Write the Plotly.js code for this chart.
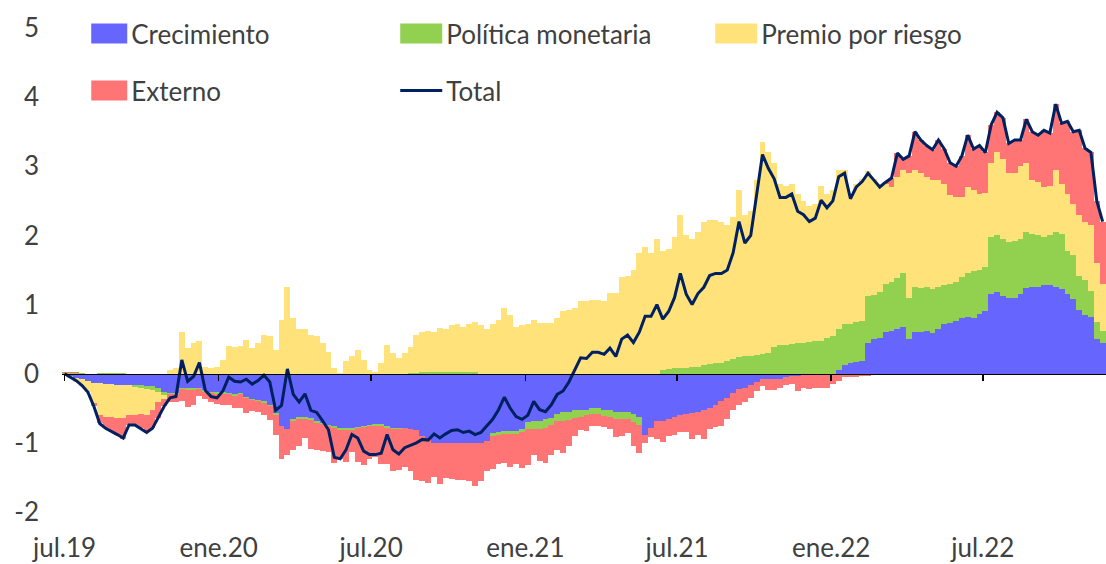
<!DOCTYPE html>
<html><head><meta charset="utf-8">
<script src="https://cdn.plot.ly/plotly-3.0.1.min.js"></script>
<style>html,body{margin:0;padding:0;background:#fff}#chart{width:1106px;height:564px}</style>
</head><body><div id="chart"></div>
<script>
const dates = [
"2019-07-01","2019-07-08","2019-07-15","2019-07-22","2019-07-29","2019-08-05","2019-08-12","2019-08-19","2019-08-26","2019-09-02",
"2019-09-09","2019-09-16","2019-09-23","2019-09-30","2019-10-07","2019-10-14","2019-10-21","2019-10-28","2019-11-04","2019-11-11",
"2019-11-18","2019-11-25","2019-12-02","2019-12-09","2019-12-16","2019-12-23","2019-12-30","2020-01-06","2020-01-13","2020-01-20",
"2020-01-27","2020-02-03","2020-02-10","2020-02-17","2020-02-24","2020-03-02","2020-03-09","2020-03-16","2020-03-23","2020-03-30",
"2020-04-06","2020-04-13","2020-04-20","2020-04-27","2020-05-04","2020-05-11","2020-05-18","2020-05-25","2020-06-01","2020-06-08",
"2020-06-15","2020-06-22","2020-06-29","2020-07-06","2020-07-13","2020-07-20","2020-07-27","2020-08-03","2020-08-10","2020-08-17",
"2020-08-24","2020-08-31","2020-09-07","2020-09-14","2020-09-21","2020-09-28","2020-10-05","2020-10-12","2020-10-19","2020-10-26",
"2020-11-02","2020-11-09","2020-11-16","2020-11-23","2020-11-30","2020-12-07","2020-12-14","2020-12-21","2020-12-28","2021-01-04",
"2021-01-11","2021-01-18","2021-01-25","2021-02-01","2021-02-08","2021-02-15","2021-02-22","2021-03-01","2021-03-08","2021-03-15",
"2021-03-22","2021-03-29","2021-04-05","2021-04-12","2021-04-19","2021-04-26","2021-05-03","2021-05-10","2021-05-17","2021-05-24",
"2021-05-31","2021-06-07","2021-06-14","2021-06-21","2021-06-28","2021-07-05","2021-07-12","2021-07-19","2021-07-26","2021-08-02",
"2021-08-09","2021-08-16","2021-08-23","2021-08-30","2021-09-06","2021-09-13","2021-09-20","2021-09-27","2021-10-04","2021-10-11",
"2021-10-18","2021-10-25","2021-11-01","2021-11-08","2021-11-15","2021-11-22","2021-11-29","2021-12-06","2021-12-13","2021-12-20",
"2021-12-27","2022-01-03","2022-01-10","2022-01-17","2022-01-24","2022-01-31","2022-02-07","2022-02-14","2022-02-21","2022-02-28",
"2022-03-07","2022-03-14","2022-03-21","2022-03-28","2022-04-04","2022-04-11","2022-04-18","2022-04-25","2022-05-02","2022-05-09",
"2022-05-16","2022-05-23","2022-05-30","2022-06-06","2022-06-13","2022-06-20","2022-06-27","2022-07-04","2022-07-11","2022-07-18",
"2022-07-25","2022-08-01","2022-08-08","2022-08-15","2022-08-22","2022-08-29","2022-09-05","2022-09-12","2022-09-19","2022-09-26",
"2022-10-03","2022-10-10","2022-10-17","2022-10-24","2022-10-31","2022-11-07","2022-11-14","2022-11-21"
];

const crecimiento = [
-0.02,-0.04,-0.06,-0.08,-0.10,-0.13,-0.14,-0.15,-0.15,-0.16,
-0.17,-0.17,-0.17,-0.17,-0.18,-0.18,-0.20,-0.26,-0.28,-0.28,
-0.20,-0.21,-0.20,-0.20,-0.24,-0.26,-0.27,-0.27,-0.28,-0.30,
-0.28,-0.33,-0.36,-0.38,-0.40,-0.45,-0.57,-0.76,-0.80,-0.65,
-0.62,-0.62,-0.64,-0.69,-0.71,-0.74,-0.76,-0.79,-0.79,-0.79,
-0.77,-0.75,-0.74,-0.73,-0.72,-0.76,-0.78,-0.79,-0.79,-0.80,
-0.81,-0.90,-0.95,-1.00,-1.00,-1.00,-1.00,-1.00,-1.00,-1.00,
-1.00,-1.00,-0.98,-0.86,-0.84,-0.83,-0.83,-0.83,-0.80,-0.70,
-0.68,-0.68,-0.66,-0.64,-0.58,-0.56,-0.55,-0.52,-0.52,-0.52,
-0.50,-0.50,-0.52,-0.53,-0.55,-0.55,-0.56,-0.58,-0.62,-0.88,
-0.78,-0.68,-0.68,-0.65,-0.62,-0.60,-0.58,-0.57,-0.55,-0.52,
-0.50,-0.45,-0.40,-0.35,-0.28,-0.22,-0.20,-0.16,-0.12,-0.08,
-0.08,-0.08,-0.07,-0.05,-0.03,-0.03,-0.02,-0.02,-0.02,-0.01,
-0.01,0.00,0.05,0.12,0.15,0.17,0.18,0.45,0.50,0.52,
0.60,0.62,0.64,0.68,0.50,0.60,0.60,0.62,0.59,0.65,
0.72,0.74,0.76,0.80,0.82,0.80,0.86,0.90,1.16,1.18,
1.12,1.10,1.10,1.15,1.24,1.25,1.26,1.28,1.28,1.25,
1.22,1.15,1.08,0.92,0.85,0.82,0.50,0.45
];

const politicaMonetaria = [
0.01,0.01,0.01,0.01,0.00,0.00,0.01,0.01,0.01,0.01,
0.01,0.00,-0.02,-0.03,-0.04,-0.05,-0.06,-0.05,-0.01,-0.01,
-0.02,-0.03,-0.03,-0.02,-0.02,-0.02,-0.02,-0.02,-0.02,-0.02,
-0.02,-0.02,-0.02,-0.02,-0.02,-0.02,-0.02,0.00,0.00,-0.03,
-0.03,-0.03,-0.03,-0.02,-0.02,-0.02,-0.02,-0.02,-0.02,-0.02,
-0.02,-0.02,-0.02,-0.03,-0.03,-0.02,-0.02,-0.01,0.00,0.01,
0.01,0.02,0.02,0.02,0.02,0.02,0.02,0.02,0.02,0.02,
0.02,0.00,0.00,-0.04,-0.04,-0.04,-0.04,-0.04,-0.05,-0.10,
-0.12,-0.12,-0.12,-0.10,-0.10,-0.12,-0.12,-0.12,-0.10,-0.07,
-0.08,-0.08,-0.09,-0.10,-0.10,-0.10,-0.10,-0.12,-0.12,0.00,
0.00,0.00,0.05,0.07,0.08,0.08,0.08,0.09,0.10,0.12,
0.14,0.15,0.16,0.18,0.22,0.24,0.25,0.26,0.27,0.28,
0.30,0.38,0.42,0.42,0.43,0.44,0.45,0.46,0.47,0.48,
0.52,0.55,0.60,0.60,0.57,0.58,0.58,0.67,0.64,0.66,
0.70,0.71,0.74,0.77,0.60,0.65,0.64,0.63,0.63,0.60,
0.56,0.56,0.56,0.60,0.63,0.68,0.64,0.65,0.82,0.82,
0.83,0.80,0.82,0.80,0.81,0.77,0.74,0.70,0.72,0.80,
0.80,0.63,0.64,0.50,0.50,0.38,0.25,0.17
];

const premioRiesgo = [
0.00,-0.02,-0.06,-0.10,-0.16,-0.30,-0.45,-0.47,-0.48,-0.48,
-0.47,-0.42,-0.40,-0.38,-0.37,-0.30,-0.15,-0.05,0.06,0.08,
0.60,0.37,0.44,0.47,0.10,0.08,0.09,0.20,0.40,0.38,
0.40,0.49,0.37,0.44,0.56,0.55,0.35,0.78,1.25,0.80,
0.64,0.64,0.56,0.54,0.44,0.32,0.08,0.01,0.18,0.25,
0.35,0.20,0.06,0.03,0.15,0.42,0.30,0.23,0.30,0.37,
0.55,0.58,0.60,0.58,0.64,0.62,0.68,0.70,0.66,0.70,
0.73,0.70,0.64,0.72,0.78,0.95,0.85,0.68,0.70,0.72,
0.78,0.74,0.74,0.73,0.80,0.90,0.92,0.95,1.05,1.05,
1.07,1.07,1.05,1.17,1.17,1.40,1.42,1.50,1.75,1.83,
1.75,1.95,1.73,1.73,1.90,2.22,1.92,1.86,1.95,2.08,
2.08,2.07,2.04,1.97,2.05,2.41,2.05,2.09,2.53,3.07,
2.90,2.67,2.33,2.30,2.32,2.16,2.05,1.96,1.98,2.24,
2.08,2.10,2.30,2.23,1.86,2.00,2.06,1.81,1.68,1.54,
1.45,1.37,1.47,1.50,1.80,1.70,1.66,1.60,1.58,1.55,
1.47,1.28,1.23,1.15,1.25,1.17,1.10,1.07,1.07,1.20,
1.15,1.00,0.98,1.05,1.00,0.78,0.78,0.72,0.72,0.90,
0.73,0.82,0.73,0.88,0.85,0.95,0.85,0.68
];

const externo = [
0.01,0.01,0.01,0.00,-0.01,-0.04,-0.12,-0.17,-0.21,-0.25,
-0.30,-0.15,-0.15,-0.21,-0.26,-0.26,-0.23,-0.11,-0.12,-0.12,
-0.18,-0.24,-0.22,-0.10,-0.10,-0.13,-0.15,-0.16,-0.15,-0.17,
-0.20,-0.22,-0.16,-0.15,-0.17,-0.20,-0.29,-0.48,-0.38,-0.42,
-0.40,-0.28,-0.42,-0.39,-0.39,-0.37,-0.51,-0.43,-0.47,-0.32,
-0.49,-0.55,-0.47,-0.44,-0.55,-0.52,-0.60,-0.59,-0.56,-0.60,
-0.72,-0.65,-0.63,-0.49,-0.59,-0.51,-0.52,-0.53,-0.53,-0.55,
-0.62,-0.55,-0.42,-0.48,-0.42,-0.42,-0.48,-0.43,-0.51,-0.52,
-0.38,-0.46,-0.51,-0.44,-0.42,-0.47,-0.37,-0.26,-0.20,-0.24,
-0.18,-0.18,-0.16,-0.17,-0.27,-0.25,-0.20,-0.35,-0.41,-0.12,
-0.14,-0.27,-0.31,-0.25,-0.26,-0.25,-0.27,-0.38,-0.34,-0.43,
-0.30,-0.32,-0.35,-0.30,-0.24,-0.23,-0.21,-0.19,-0.13,-0.10,
-0.15,-0.15,-0.13,-0.12,-0.12,-0.22,-0.18,-0.20,-0.18,-0.20,
-0.19,-0.15,-0.10,-0.05,-0.05,-0.05,-0.04,-0.03,-0.02,-0.02,
0.02,0.13,0.34,0.15,0.25,0.55,0.48,0.45,0.44,0.58,
0.50,0.47,0.45,0.60,0.75,0.60,0.70,0.58,0.55,0.58,
0.60,0.43,0.48,0.38,0.63,0.70,0.67,0.82,0.76,0.95,
0.87,1.05,1.05,1.22,1.06,1.05,0.90,0.90
];

const total = [
0.00,-0.05,-0.10,-0.17,-0.27,-0.47,-0.72,-0.79,-0.83,-0.88,
-0.93,-0.74,-0.74,-0.79,-0.85,-0.79,-0.64,-0.47,-0.35,-0.33,
0.20,-0.11,-0.04,0.16,-0.24,-0.33,-0.35,-0.25,-0.05,-0.11,
-0.12,-0.08,-0.15,-0.10,-0.02,-0.12,-0.53,-0.46,0.07,-0.30,
-0.41,-0.29,-0.53,-0.56,-0.68,-0.81,-1.21,-1.23,-1.10,-0.88,
-0.93,-1.12,-1.17,-1.17,-1.15,-0.88,-1.10,-1.16,-1.07,-1.04,
-1.00,-0.95,-0.96,-0.87,-0.93,-0.87,-0.82,-0.81,-0.85,-0.83,
-0.88,-0.85,-0.76,-0.66,-0.52,-0.34,-0.50,-0.62,-0.66,-0.60,
-0.40,-0.52,-0.55,-0.45,-0.30,-0.25,-0.12,0.05,0.23,0.22,
0.31,0.31,0.28,0.37,0.25,0.50,0.56,0.45,0.60,0.83,
0.83,1.00,0.79,0.90,1.10,1.45,1.15,1.00,1.16,1.25,
1.42,1.45,1.45,1.50,1.75,2.20,1.89,2.00,2.55,3.17,
2.97,2.82,2.55,2.55,2.60,2.35,2.30,2.20,2.25,2.51,
2.40,2.50,2.85,2.90,2.53,2.70,2.78,2.90,2.80,2.70,
2.77,2.83,3.19,3.10,3.15,3.50,3.38,3.30,3.24,3.38,
3.25,3.05,3.00,3.15,3.45,3.25,3.30,3.20,3.60,3.78,
3.70,3.33,3.38,3.38,3.68,3.50,3.45,3.52,3.48,3.90,
3.62,3.65,3.50,3.52,3.26,3.20,2.50,2.20
];

const xTickVals = ["2019-07-01","2020-01-01","2020-07-01","2021-01-01","2021-07-01","2022-01-01","2022-07-01"];
const xTickText = ["jul.19","ene.20","jul.20","ene.21","jul.21","ene.22","jul.22"];
const yTickVals = [-2,-1,0,1,2,3,4,5];
const yTickText = ["-2","-1","0","1","2","3","4","5"];

const FONT = 'Lato, "Open Sans", sans-serif';
const TEXT = '#404040';
const WEEK_MS = 7 * 24 * 3600 * 1000;

function barTrace(name, y, color, legend) {
  return {type: 'bar', x: dates, y: y, name: name, width: WEEK_MS,
          marker: {color: color, line: {width: 0}}, legend: legend, hoverinfo: 'skip'};
}

const traces = [
  barTrace('Crecimiento', crecimiento, '#6666FF', 'legend'),
  barTrace('Política monetaria', politicaMonetaria, '#92D050', 'legend'),
  barTrace('Premio por riesgo', premioRiesgo, '#FFE37A', 'legend'),
  barTrace('Externo', externo, '#FF7575', 'legend2'),
  {type: 'scatter', mode: 'lines', x: dates, y: total, name: 'Total', xaxis: 'x2', yaxis: 'y',
   line: {color: '#002060', width: 3}, legend: 'legend2', hoverinfo: 'skip'}
];

const xRange = ['2019-06-28', '2022-11-25'];

const layout = {
  width: 1106, height: 564,
  margin: {l: 62, r: 0, t: 28, b: 52},
  paper_bgcolor: '#ffffff', plot_bgcolor: '#ffffff',
  font: {family: FONT, size: 26, color: TEXT},
  barmode: 'relative', bargap: 0,
  showlegend: true,
  xaxis: {type: 'date', range: xRange, tickvals: xTickVals, ticktext: xTickText,
          showgrid: false, zeroline: false, showline: false, ticks: '',
          ticklabelstandoff: 18, tickfont: {family: FONT, size: 26, color: TEXT}, fixedrange: true},
  xaxis2: {type: 'date', range: xRange, overlaying: 'x', anchor: 'free', position: 2 / 7,
           tickvals: xTickVals, showticklabels: false, ticks: 'outside', ticklen: 6,
           tickwidth: 1.5, tickcolor: '#000000', showline: true, linecolor: '#000000',
           linewidth: 1.5, showgrid: false, zeroline: false, layer: 'above traces', fixedrange: true},
  yaxis: {range: [-2, 5], tickvals: yTickVals, ticktext: yTickText,
          showgrid: false, zeroline: false, showline: false, ticks: '',
          ticklabelstandoff: 22, tickfont: {family: FONT, size: 26, color: TEXT}, fixedrange: true},
  legend: {orientation: 'h', x: 0.028, xanchor: 'left', y: 1.037, yanchor: 'top',
           entrywidth: 270, entrywidthmode: 'pixels', bgcolor: 'rgba(0,0,0,0)',
           font: {family: FONT, size: 26, color: TEXT}, traceorder: 'normal'},
  legend2: {orientation: 'h', x: 0.028, xanchor: 'left', y: 0.919, yanchor: 'top',
            entrywidth: 270, entrywidthmode: 'pixels', bgcolor: 'rgba(0,0,0,0)',
            font: {family: FONT, size: 26, color: TEXT}, traceorder: 'normal'}
};

Plotly.newPlot('chart', traces, layout, {staticPlot: true, displayModeBar: false}).then(function (gd) {
  // widen the legend swatches to the wide rectangles of the original (both legends)
  gd.querySelectorAll('g.legend .legendpoints path, g.legend2 .legendpoints path').forEach(function (p) {
    p.setAttribute('d', 'M16,10H-26V-10H16Z');
  });
  gd.querySelectorAll('g.legend .legendlines path, g.legend2 .legendlines path').forEach(function (p) {
    p.setAttribute('d', 'M-6,0h42');
  });
});
</script>
</body></html>
